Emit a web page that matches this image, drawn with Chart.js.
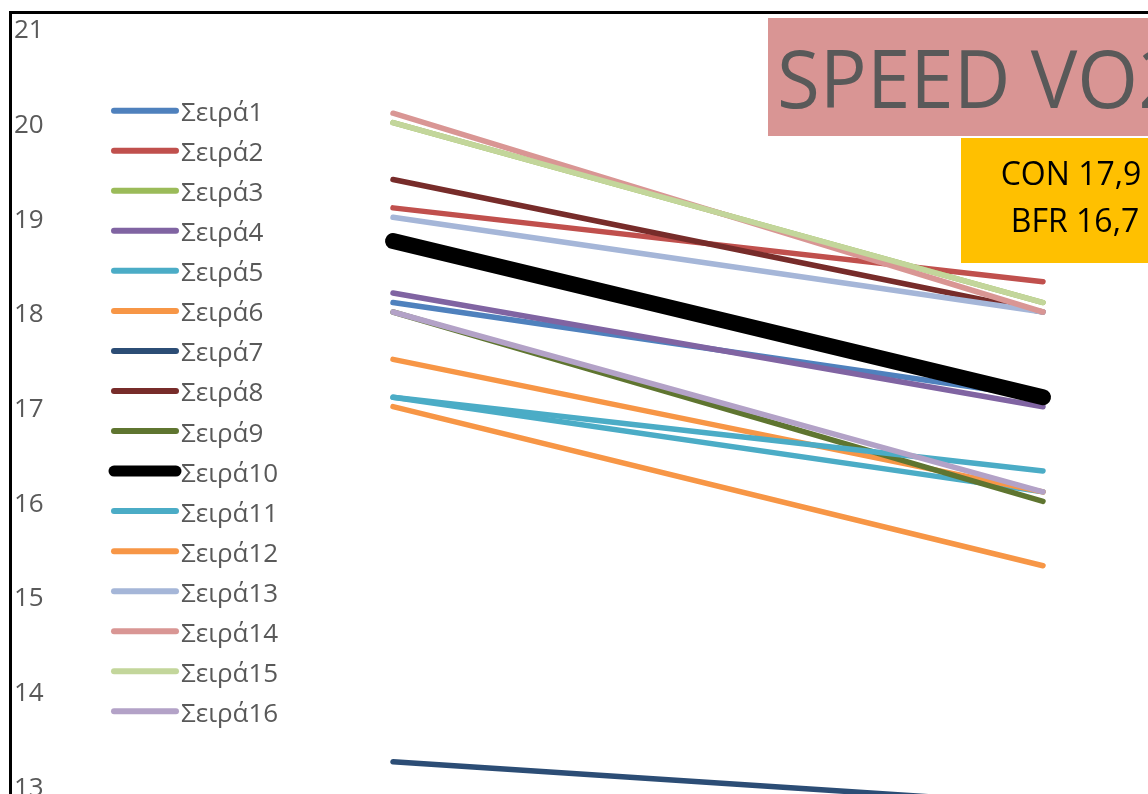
<!DOCTYPE html>
<html>
<head>
<meta charset="utf-8">
<script src="https://cdn.jsdelivr.net/npm/chart.js@4.4.1/dist/chart.umd.min.js"></script>
<style>
  html, body { margin: 0; padding: 0; background: #ffffff; }
  #frame { position: relative; width: 1148px; height: 794px; overflow: hidden; background: #ffffff; }
  #chart { position: absolute; left: 0; top: 0; }
</style>
</head>
<body>
<div id="frame"><canvas id="chart" width="1400" height="900"></canvas></div>
<script>
// Two measurement points per subject
const categories = ['1', '2'];

const seriesNames = [
  'Σειρά1', 'Σειρά2', 'Σειρά3', 'Σειρά4', 'Σειρά5', 'Σειρά6', 'Σειρά7', 'Σειρά8',
  'Σειρά9', 'Σειρά10', 'Σειρά11', 'Σειρά12', 'Σειρά13', 'Σειρά14', 'Σειρά15', 'Σειρά16'
];

const s1  = [18.1, 17.1];
const s2  = [19.1, 18.32];
const s3  = [20.0, 18.1];
const s4  = [18.2, 17.0];
const s5  = [17.1, 16.1];
const s6  = [17.5, 16.1];
const s7  = [13.25, 12.8];
const s8  = [19.4, 18.0];
const s9  = [18.0, 16.0];
const s10 = [18.75, 17.1];
const s11 = [17.1, 16.32];
const s12 = [17.0, 15.32];
const s13 = [19.0, 18.0];
const s14 = [20.1, 18.0];
const s15 = [20.0, 18.1];
const s16 = [18.0, 16.1];

const seriesValues = [s1, s2, s3, s4, s5, s6, s7, s8, s9, s10, s11, s12, s13, s14, s15, s16];

const seriesColors = [
  '#4F81BD', '#C0504D', '#9BBB59', '#8064A2', '#4BACC6', '#F79646', '#2C4D75', '#772C2A',
  '#5F7530', '#000000', '#4BACC6', '#F79646', '#A5B6D8', '#D99694', '#C3D69B', '#B3A2C7'
];

const yTicks = { min: 12, max: 21, step: 1 };

const titleText = 'SPEED VO2';
const infoLines = ['CON 17,9', 'BFR 16,7'];

const FONT = '"Open Sans", "DejaVu Sans", sans-serif';
const GREY = '#595959';

const datasets = seriesValues.map((vals, i) => ({
  label: seriesNames[i],
  data: vals,
  borderColor: seriesColors[i],
  backgroundColor: seriesColors[i],
  borderWidth: seriesNames[i] === 'Σειρά10' ? 16 : 5.5,
  borderCapStyle: 'round',
  borderJoinStyle: 'round',
  pointRadius: 0,
  pointHoverRadius: 0,
  tension: 0,
  fill: false,
  // later series are painted over earlier ones
  order: seriesValues.length - i
}));

// white background plus the outer chart border
const framePlugin = {
  id: 'framePlugin',
  beforeDraw(chart) {
    const ctx = chart.ctx;
    ctx.save();
    ctx.fillStyle = '#ffffff';
    ctx.fillRect(0, 0, chart.width, chart.height);
    ctx.strokeStyle = '#000000';
    ctx.lineWidth = 3;
    ctx.strokeRect(10.5, 12.5, chart.width + 40, chart.height + 40);
    ctx.restore();
  }
};

// vertical legend inside the plot, left side
const legendPlugin = {
  id: 'sideLegend',
  afterDraw(chart) {
    const ctx = chart.ctx;
    ctx.save();
    ctx.font = '26px ' + FONT;
    ctx.textBaseline = 'alphabetic';
    ctx.textAlign = 'left';
    chart.data.datasets.forEach((ds, i) => {
      const y = 110.7 + i * 40.04;
      ctx.strokeStyle = ds.borderColor;
      ctx.lineCap = 'round';
      ctx.lineWidth = ds.label === 'Σειρά10' ? 11 : 6;
      ctx.beginPath();
      ctx.moveTo(114, y);
      ctx.lineTo(176, y);
      ctx.stroke();
      ctx.fillStyle = GREY;
      ctx.fillText(ds.label, 181, y + 10.5);
    });
    ctx.restore();
  }
};

// title banner and summary box
const boxesPlugin = {
  id: 'boxes',
  afterDraw(chart) {
    const ctx = chart.ctx;
    ctx.save();
    ctx.fillStyle = '#D99594';
    ctx.fillRect(768, 18, 520, 118);
    ctx.fillStyle = GREY;
    ctx.font = '81px ' + FONT;
    ctx.textBaseline = 'alphabetic';
    ctx.textAlign = 'left';
    ctx.translate(777, 108);
    ctx.scale(0.965, 1);
    ctx.fillText(titleText, 0, 0);
    ctx.restore();

    ctx.save();
    ctx.fillStyle = '#FFC000';
    ctx.fillRect(961, 138, 226, 125);
    ctx.fillStyle = '#000000';
    ctx.font = '32px ' + FONT;
    ctx.textAlign = 'center';
    ctx.textBaseline = 'alphabetic';
    ctx.fillText(infoLines[0], 1071, 185);
    ctx.fillText(infoLines[1], 1075, 232);
    ctx.restore();
  }
};

new Chart(document.getElementById('chart'), {
  type: 'line',
  data: { labels: categories, datasets },
  plugins: [framePlugin, legendPlugin, boxesPlugin],
  options: {
    responsive: false,
    animation: false,
    events: [],
    layout: { padding: { left: 14, top: 28, right: 32, bottom: 20 } },
    plugins: {
      legend: { display: false },
      tooltip: { enabled: false },
      title: { display: false }
    },
    scales: {
      x: {
        type: 'category',
        offset: true,
        display: false
      },
      y: {
        min: yTicks.min,
        max: yTicks.max,
        border: { display: false },
        grid: { display: false, drawTicks: false },
        ticks: {
          stepSize: yTicks.step,
          crossAlign: 'far',
          padding: 0,
          labelOffset: 3,
          color: GREY,
          font: { family: FONT, size: 26 }
        },
        afterFit(scale) { scale.width = 54; }
      }
    }
  }
});
</script>
</body>
</html>
